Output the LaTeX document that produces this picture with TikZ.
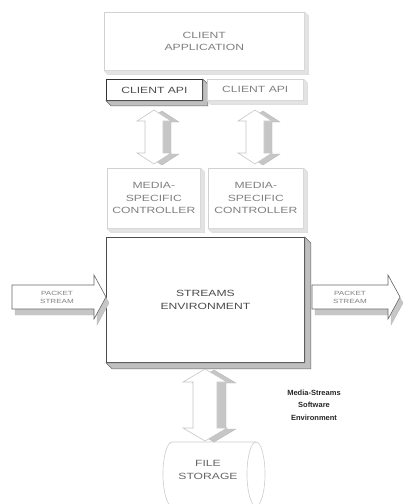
\documentclass[tikz,border=0pt]{standalone}
\usepackage{fontspec}
\setmainfont{Liberation Sans}
\newfontfamily\widefont[FakeStretch=1.35]{Liberation Sans}
\newcommand\Depth[3]{%
  \filldraw[#3] (#1.north east) -- ([shift={(#2,#2)}]#1.north east) -- ([shift={(#2,#2)}]#1.south east) -- ([shift={(#2,#2)}]#1.south west) -- (#1.south west) -- (#1.south east) -- cycle;}
% vertical double arrow path: length, shaft half, head half, head length
\newcommand\VDblPath[4]{(0,0) -- (#3,#4) -- (#2,#4) -- (#2,#1-#4) -- (#3,#1-#4) -- (0,#1) -- (-#3,#1-#4) -- (-#2,#1-#4) -- (-#2,#4) -- (-#3,#4) -- cycle}
% horizontal single arrow path: shaft length, shaft half, head half, head length
\newcommand\HArrPath[4]{(0,-#2) -- (#1,-#2) -- (#1,-#3) -- (#1+#4,0) -- (#1,#3) -- (#1,#2) -- (0,#2) -- cycle}
\begin{document}
\begin{tikzpicture}[x=1pt,y=-1pt,
  lbox/.style={draw=gray!35, fill=white, line width=0.6pt, text=black!50, align=center, inner sep=0pt, anchor=north west,
    font=\widefont\fontsize{9}{12.5}\selectfont},
  dbox/.style={lbox, draw=black!80, line width=0.8pt, text=black!70},
  lface/.style={fill=gray!22, draw=gray!30, line width=0.4pt},
  dface/.style={fill=gray!50, draw=black!60, line width=0.5pt},
  arrfront/.style={fill=white, draw=gray!45, line width=0.6pt},
  arrshade/.style={fill=gray!45, draw=gray!55, line width=0.4pt},
  txt/.style={text=black!50, align=center, inner sep=0pt, font=\widefont\fontsize{9}{12.5}\selectfont},
  small/.style={txt, font=\widefont\fontsize{6}{8}\selectfont},
  lbl/.style={align=center, inner sep=0pt, text=black!85, font=\bfseries\fontsize{7.5}{12.5}\selectfont}
]
\useasboundingbox (0,0) rectangle (405,504);

% client application
\node[lbox, minimum width=200, minimum height=58] (app) at (104,12) {CLIENT\\APPLICATION};
\Depth{app}{4}{lface}
% client APIs
\node[dbox, minimum width=96, minimum height=21] (apiL) at (106,79) {CLIENT API};
\Depth{apiL}{5}{dface}
\node[lbox, minimum width=96, minimum height=21] (apiR) at (207,79) {CLIENT API};
\Depth{apiR}{4}{lface}
% media specific controllers
\node[lbox, minimum width=93, minimum height=60] (mscL) at (107,168) {MEDIA-\\SPECIFIC\\CONTROLLER};
\Depth{mscL}{4}{lface}
\node[lbox, minimum width=95, minimum height=60] (mscR) at (208,168) {MEDIA-\\SPECIFIC\\CONTROLLER};
\Depth{mscR}{4}{lface}

% vertical double arrows between API and controllers
\coordinate (vaL) at (154,110);
\coordinate (vaR) at (255,110);
\foreach \c in {vaL,vaR}{
  \begin{scope}[shift={(\c)}]
    \begin{scope}[shift={(8,1)}]\filldraw[arrshade] \VDblPath{54}{9}{17}{11};\end{scope}
    \filldraw[arrfront] \VDblPath{54}{9}{17}{11};
  \end{scope}
}

% streams environment
\node[dbox, draw=black!70, minimum width=198, minimum height=125] (env) at (106,237) {STREAMS\\ENVIRONMENT};
\Depth{env}{6}{dface}

% packet stream arrows
\begin{scope}[shift={(12,297)}]
  \begin{scope}[shift={(3,6)}]\filldraw[arrshade] \HArrPath{82}{12}{22}{12};\end{scope}
  \filldraw[arrfront, draw=black!60] \HArrPath{82}{12}{22}{12};
\end{scope}
\node[small] (psL) at (57,297) {PACKET\\STREAM};
\begin{scope}[shift={(312,297)}]
  \begin{scope}[shift={(3,6)}]\filldraw[arrshade] \HArrPath{76}{12}{22}{12};\end{scope}
  \filldraw[arrfront, draw=black!60] \HArrPath{76}{12}{22}{12};
\end{scope}
\node[small] (psR) at (350,297) {PACKET\\STREAM};

% file storage cylinder
\filldraw[fill=white, draw=gray!40, line width=0.6pt] (256,442) -- (172,442) arc[start angle=270, end angle=90, x radius=9, y radius=32] -- (256,506);
\draw[gray!40, line width=0.6pt] (256,474) ellipse [x radius=9, y radius=32];
\node[txt, text=black!60] (fs) at (208,470) {FILE\\STORAGE};

% vertical double arrow between env and storage
\coordinate (vaD) at (205,369);
\begin{scope}[shift={(vaD)}]
  \begin{scope}[shift={(9,1)}]\filldraw[arrshade] \VDblPath{72}{12}{22}{13};\end{scope}
  \filldraw[arrfront] \VDblPath{72}{12}{22}{13};
\end{scope}

% label
\node[lbl] (lab) at (314,405) {Media-Streams\\Software\\Environment};
\end{tikzpicture}
\end{document}
